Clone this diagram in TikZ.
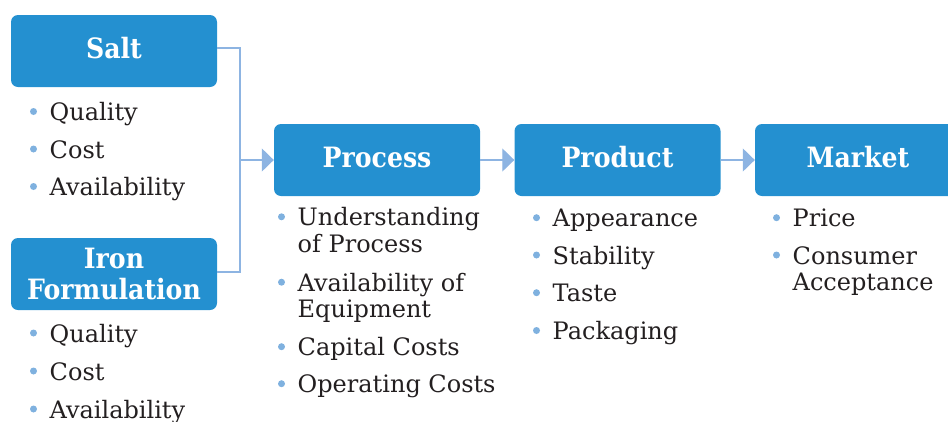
\documentclass[tikz,border=0pt]{standalone}
\usepackage{fontspec}
\setmainfont{DejaVu Serif}
\newfontfamily\boxfont{DejaVu Serif Condensed}
\usetikzlibrary{arrows.meta,calc}
\definecolor{boxblue}{RGB}{36,144,208}
\definecolor{linkblue}{RGB}{141,180,226}
\definecolor{dotblue}{RGB}{127,177,223}
\definecolor{txt}{RGB}{35,31,32}
\tikzset{
  box/.style={rectangle, rounded corners=7pt, fill=boxblue, text=white,
    minimum width=206pt, minimum height=72pt, inner sep=0pt, align=center,
    font=\boxfont\bfseries\fontsize{28}{31}\selectfont},
  onebox/.style={box, text height=20pt, text depth=5pt},
  itemtext/.style={anchor=base west, inner sep=0pt, align=left, text=txt,
    font=\fontsize{24}{26.5}\selectfont},
  conn/.style={draw=linkblue, line width=1.2pt},
  arr/.style={-{Triangle[length=12pt,width=23pt,fill=linkblue]}}
}
% #3 is the baseline of the item's last line
\newcommand{\bitem}[5]{%
  \node[itemtext] (#1) at (#2,#3) {#4};
  \fill[dotblue] ($(#1.base west)+(-16,{-9-#5})$) circle (3.5pt);}
\begin{document}
\begin{tikzpicture}[x=1pt,y=-1pt]
\useasboundingbox (0,0) rectangle (948,421);
% boxes
\node[onebox] (salt) at (114,51) {Salt};
\node[box] (iron) at (114,274) {Iron\\Formulation};
\node[onebox] (process) at (377,160) {Process};
\node[onebox] (product) at (617.5,160) {Product};
\node[onebox] (market) at (858,160) {Market};
% connectors
\coordinate (j) at (240,160);
\draw[conn] ([yshift=3pt]salt.east) -| (j);
\draw[conn] ([yshift=2pt]iron.east) -| (j);
\draw[conn,arr] (j) -- (process.west);
\draw[conn,arr] (process.east) -- (product.west);
\draw[conn,arr] (product.east) -- (market.west);
% salt items
\bitem{s1}{49.5}{120.5}{Quality}{0}
\bitem{s2}{49.5}{158}{Cost}{0}
\bitem{s3}{49.5}{195.5}{Availability}{0}
% iron items
\bitem{i1}{49.5}{342}{Quality}{0}
\bitem{i2}{49.5}{380}{Cost}{0}
\bitem{i3}{49.5}{418}{Availability}{0}
% process items
\bitem{p1}{297.5}{252.3}{Understanding\\of Process}{26.5}
\bitem{p2}{297.5}{317.7}{Availability of\\Equipment}{26.5}
\bitem{p3}{297.5}{355.7}{Capital Costs}{0}
\bitem{p4}{297.5}{392.7}{Operating Costs}{0}
% product items
\bitem{d1}{552.5}{226.7}{Appearance}{0}
\bitem{d2}{552.5}{264}{Stability}{0}
\bitem{d3}{552.5}{301.7}{Taste}{0}
\bitem{d4}{552.5}{339.5}{Packaging}{0}
% market items
\bitem{m1}{792.5}{226.7}{Price}{0}
\bitem{m2}{792.5}{290.5}{Consumer\\Acceptance}{26.5}
\end{tikzpicture}
\end{document}
